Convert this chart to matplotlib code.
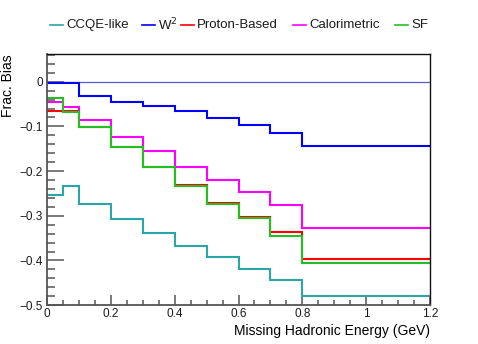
import matplotlib
matplotlib.use("Agg")
import matplotlib.pyplot as plt
from matplotlib.lines import Line2D
from matplotlib.ticker import MultipleLocator
import numpy as np

plt.rcParams["font.family"] = ["Liberation Sans", "DejaVu Sans"]

# bin edges (GeV) and fractional bias per bin
edges = [0, 0.05, 0.1, 0.2, 0.3, 0.4, 0.5, 0.6, 0.7, 0.8, 1.2]
ccqe = [-0.254, -0.234, -0.273, -0.308, -0.338, -0.367, -0.393, -0.419, -0.443, -0.479]
w2 = [-0.004, -0.002, -0.033, -0.046, -0.055, -0.066, -0.082, -0.096, -0.114, -0.143]
proton = [-0.065, -0.065, -0.102, -0.147, -0.190, -0.231, -0.271, -0.303, -0.336, -0.397]
calor = [-0.046, -0.057, -0.085, -0.123, -0.156, -0.190, -0.220, -0.247, -0.275, -0.327]
sf = [-0.037, -0.067, -0.102, -0.147, -0.190, -0.233, -0.273, -0.306, -0.346, -0.406]

names = ["CCQE-like", "W$^{2}$", "Proton-Based", "Calorimetric", "SF"]
series = [ccqe, w2, proton, calor, sf]
colors = ["#2aa6a6", "#0000ff", "#ff0000", "#ff00ff", "#22c022"]

xticks = [0, 0.2, 0.4, 0.6, 0.8, 1.0, 1.2]
xticklabels = ["0", "0.2", "0.4", "0.6", "0.8", "1", "1.2"]
yticks = [0, -0.1, -0.2, -0.3, -0.4, -0.5]
yticklabels = ["0", "\u22120.1", "\u22120.2", "\u22120.3", "\u22120.4", "\u22120.5"]

fig = plt.figure(figsize=(4.78, 3.44), dpi=100)
ax = fig.add_axes([0.098, 0.113, 0.802, 0.730])

ax.axhline(0, color="#5a5acc", lw=0.9, zorder=1)
for vals, c in zip(series, colors):
    ax.stairs(vals, edges, baseline=None, color=c, lw=1.5, zorder=2)

ax.set_xlim(0, 1.2)
ax.set_ylim(-0.5, 0.062)
ax.set_xticks(xticks)
ax.set_xticklabels(xticklabels)
ax.set_yticks(yticks)
ax.set_yticklabels(yticklabels)
ax.xaxis.set_minor_locator(MultipleLocator(0.05))
ax.yaxis.set_minor_locator(MultipleLocator(0.02))

ax.tick_params(axis="both", which="both", direction="in", colors="#555555",
               labelcolor="#1a1a1a", labelsize=8.5, width=1.1)
ax.tick_params(axis="y", which="major", length=12, pad=3)
ax.tick_params(axis="y", which="minor", length=6)
ax.tick_params(axis="x", which="major", length=7, pad=2)
ax.tick_params(axis="x", which="minor", length=3.5)

for sp in ("left", "bottom"):
    ax.spines[sp].set_color("#555555")
    ax.spines[sp].set_linewidth(1.3)
for sp in ("top", "right"):
    ax.spines[sp].set_color("#111111")
    ax.spines[sp].set_linewidth(1.0)

ax.set_xlabel("Missing Hadronic Energy (GeV)", fontsize=10, loc="right", labelpad=3)
ax.set_ylabel("Frac. Bias", fontsize=10, loc="top")
ax.yaxis.set_label_coords(-0.084, 1.0)

# legend across the top, one entry per series
line_x = [50, 142, 181, 293, 395]
fy = 1 - 25 / 344
for x0, name, c in zip(line_x, names, colors):
    fig.add_artist(Line2D([x0 / 478, (x0 + 13) / 478], [fy, fy], color=c, lw=1.2))
    fig.text((x0 + 16) / 478, fy, name, fontsize=9.5, va="center", ha="left",
             color="#1a1a1a")

fig.savefig("out.png", dpi=100)
